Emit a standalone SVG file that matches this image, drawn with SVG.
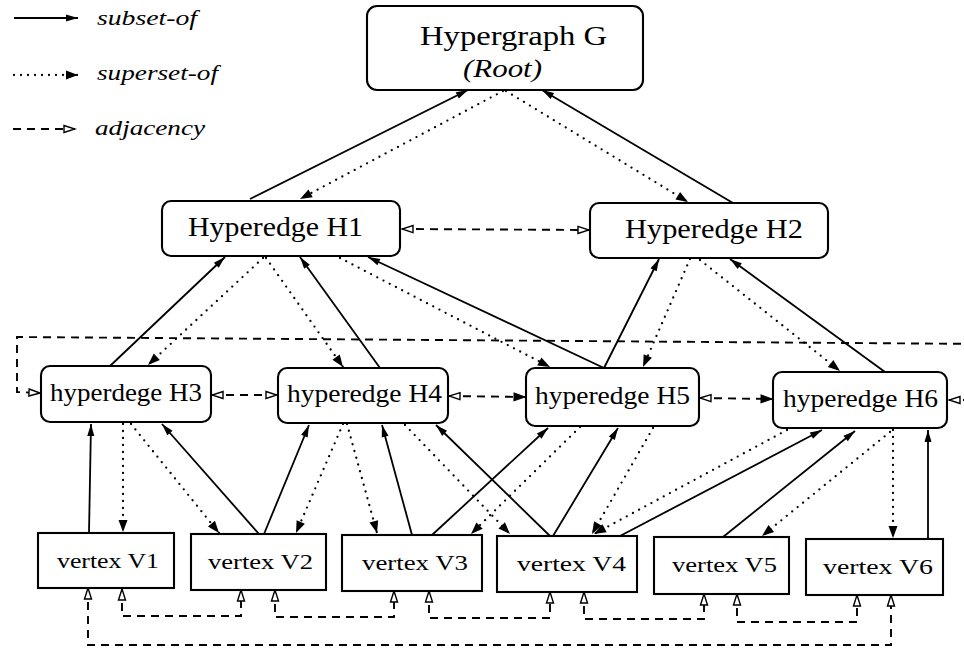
<svg xmlns="http://www.w3.org/2000/svg" width="964" height="650" viewBox="0 0 964 650">
  <style>
    .box { fill: #fff; stroke: #000; stroke-width: 2.1; }
    .lbl { font-family: "Liberation Serif", "Times New Roman", serif; fill: #000; }
    .it { font-style: italic; }
    .sub { fill: none; stroke: #000; stroke-width: 1.8; marker-end: url(#arrS); }
    .sup { fill: none; stroke: #000; stroke-width: 2.3; stroke-linecap: round; stroke-dasharray: 0 7; marker-end: url(#arrD); }
    .adj { fill: none; stroke: #000; stroke-width: 1.9; stroke-dasharray: 8 6; marker-start: url(#arrO); marker-end: url(#arrO); }
    .adjF { marker-end: url(#arrF); }
  </style>
  <defs>
    <marker id="arrS" viewBox="-1 -6 14 12" refX="12" refY="0" markerWidth="14" markerHeight="12" markerUnits="userSpaceOnUse" orient="auto">
      <path d="M0,-3.5 L12,0 L0,3.5 z" fill="#000"/>
    </marker>
    <marker id="arrD" viewBox="-1 -6 14 12" refX="12" refY="0" markerWidth="14" markerHeight="12" markerUnits="userSpaceOnUse" orient="auto">
      <path d="M0,-4.5 L12,0 L0,4.5 z" fill="#000"/>
    </marker>
    <marker id="arrO" viewBox="-1 -6 14 12" refX="11" refY="0" markerWidth="14" markerHeight="12" markerUnits="userSpaceOnUse" orient="auto-start-reverse">
      <path d="M0,-3.5 L11,0 L0,3.5 z" fill="#fff" stroke="#000" stroke-width="1.4"/>
    </marker>
    <marker id="arrF" viewBox="-1 -6 14 12" refX="11" refY="0" markerWidth="14" markerHeight="12" markerUnits="userSpaceOnUse" orient="auto">
      <path d="M0,-4 L11,0 L0,4 z" fill="#000" stroke="#000" stroke-width="1"/>
    </marker>
  </defs>

  <!-- legend -->
  <g id="legend">
    <path class="sub" d="M14,18 L78,18"/>
    <text class="lbl it" x="97" y="25" font-size="22" textLength="100" lengthAdjust="spacingAndGlyphs">subset-of</text>
    <path class="sup" d="M14,75 L78,75"/>
    <text class="lbl it" x="97" y="80" font-size="22" textLength="121" lengthAdjust="spacingAndGlyphs">superset-of</text>
    <path class="adj" style="marker-start:none" d="M13,129 L75,129"/>
    <text class="lbl it" x="95" y="135" font-size="22" textLength="110" lengthAdjust="spacingAndGlyphs">adjacency</text>
  </g>

  <!-- connectors -->
  <g id="connectors">
    <!-- root level -->
    <path class="sub" d="M250,199 L468,90"/>
    <path class="sup" d="M503,91 L300,199"/>
    <path class="sub" d="M733,203 L542,90"/>
    <path class="sup" d="M506,91 L688,202"/>
    <path class="adj" d="M402,229 L589,230"/>

    <!-- H1 / H2 to second level -->
    <path class="sub" d="M110,366 L225,257"/>
    <path class="sup" d="M263,258 L148,365"/>
    <path class="sup" d="M266,258 L343,367"/>
    <path class="sub" d="M380,368 L300,257"/>
    <path class="sup" d="M340,258 L550,367"/>
    <path class="sub" d="M604,368 L368,257"/>
    <path class="sub" d="M604,368 L659,259"/>
    <path class="sup" d="M690,259 L643,367"/>
    <path class="sup" d="M700,260 L840,371"/>
    <path class="sub" d="M885,372 L730,259"/>

    <!-- second level adjacency -->
    <path class="adj" d="M212,395 L277,395"/>
    <path class="adj adjF" d="M449,396 L525,397"/>
    <path class="adj adjF" d="M700,398 L772,399"/>
    <path class="adj" d="M949,400 L990,400 L990,344 L17,337 L17,392 L40,393"/>

    <!-- second level to vertices -->
    <path class="sub" d="M89,533 L91,424"/>
    <path class="sup" d="M123,424 L123,532"/>
    <path class="sup" d="M131,424 L219,533"/>
    <path class="sub" d="M259,534 L162,424"/>
    <path class="sub" d="M264,534 L309,425"/>
    <path class="sup" d="M343,424 L296,533"/>
    <path class="sup" d="M347,424 L377,533"/>
    <path class="sub" d="M412,535 L382,425"/>
    <path class="sup" d="M405,425 L510,534"/>
    <path class="sub" d="M550,536 L436,425"/>
    <path class="sub" d="M432,535 L548,428"/>
    <path class="sup" d="M580,427 L471,534"/>
    <path class="sub" d="M553,536 L618,428"/>
    <path class="sup" d="M653,428 L592,534"/>
    <path class="sup" d="M787,430 L594,534"/>
    <path class="sub" d="M620,536 L822,430"/>
    <path class="sub" d="M723,537 L855,431"/>
    <path class="sup" d="M890,432 L762,536"/>
    <path class="sup" d="M893,430 L893,538"/>
    <path class="sub" d="M928,539 L928,430"/>

    <!-- vertex adjacency -->
    <path class="adj" d="M122,589 V616 H241 V590"/>
    <path class="adj" d="M275,590 V617 H394 V591"/>
    <path class="adj" d="M429,591 V618 H550 V592"/>
    <path class="adj" d="M584,592 V619 H704 V594"/>
    <path class="adj" d="M737,594 V622 H857 V595"/>
    <path class="adj" d="M88,588 V645 H891 V595"/>
  </g>

  <!-- nodes -->
  <g id="root">
    <rect class="box" x="367" y="6" width="276" height="84" rx="10"/>
    <text class="lbl" x="420" y="45" font-size="28" textLength="187" lengthAdjust="spacingAndGlyphs">Hypergraph G</text>
    <text class="lbl it" x="463" y="77" font-size="26" textLength="79" lengthAdjust="spacingAndGlyphs">(Root)</text>
  </g>
  <g id="H1">
    <rect class="box" x="162" y="201" width="238" height="55" rx="9"/>
    <text class="lbl" x="188" y="236" font-size="28" textLength="175" lengthAdjust="spacingAndGlyphs">Hyperedge H1</text>
  </g>
  <g id="H2">
    <rect class="box" x="590" y="203" width="238" height="55" rx="9"/>
    <text class="lbl" x="625" y="238" font-size="28" textLength="178" lengthAdjust="spacingAndGlyphs">Hyperedge H2</text>
  </g>
  <g id="H3">
    <rect class="box" x="41" y="366" width="170" height="56" rx="9"/>
    <text class="lbl" x="50" y="401" font-size="26" textLength="152" lengthAdjust="spacingAndGlyphs">hyperdege H3</text>
  </g>
  <g id="H4">
    <rect class="box" x="278" y="368" width="170" height="55" rx="9"/>
    <text class="lbl" x="287" y="402" font-size="26" textLength="155" lengthAdjust="spacingAndGlyphs">hyperedge H4</text>
  </g>
  <g id="H5">
    <rect class="box" x="526" y="368" width="173" height="58" rx="9"/>
    <text class="lbl" x="535" y="404" font-size="26" textLength="155" lengthAdjust="spacingAndGlyphs">hyperedge H5</text>
  </g>
  <g id="H6">
    <rect class="box" x="773" y="372" width="174" height="56" rx="9"/>
    <text class="lbl" x="783" y="407" font-size="26" textLength="155" lengthAdjust="spacingAndGlyphs">hyperedge H6</text>
  </g>
  <g id="V1">
    <rect class="box" x="38" y="533" width="136" height="55"/>
    <text class="lbl" x="57" y="568" font-size="22" textLength="102" lengthAdjust="spacingAndGlyphs">vertex V1</text>
  </g>
  <g id="V2">
    <rect class="box" x="191" y="534" width="135" height="56"/>
    <text class="lbl" x="208" y="569" font-size="22" textLength="105" lengthAdjust="spacingAndGlyphs">vertex V2</text>
  </g>
  <g id="V3">
    <rect class="box" x="342" y="535" width="140" height="56"/>
    <text class="lbl" x="362" y="570" font-size="22" textLength="106" lengthAdjust="spacingAndGlyphs">vertex V3</text>
  </g>
  <g id="V4">
    <rect class="box" x="497" y="536" width="140" height="56"/>
    <text class="lbl" x="517" y="571" font-size="22" textLength="109" lengthAdjust="spacingAndGlyphs">vertex V4</text>
  </g>
  <g id="V5">
    <rect class="box" x="654" y="537" width="135" height="57"/>
    <text class="lbl" x="672" y="572" font-size="22" textLength="105" lengthAdjust="spacingAndGlyphs">vertex V5</text>
  </g>
  <g id="V6">
    <rect class="box" x="806" y="539" width="137" height="56"/>
    <text class="lbl" x="823" y="574" font-size="22" textLength="110" lengthAdjust="spacingAndGlyphs">vertex V6</text>
  </g>
</svg>
